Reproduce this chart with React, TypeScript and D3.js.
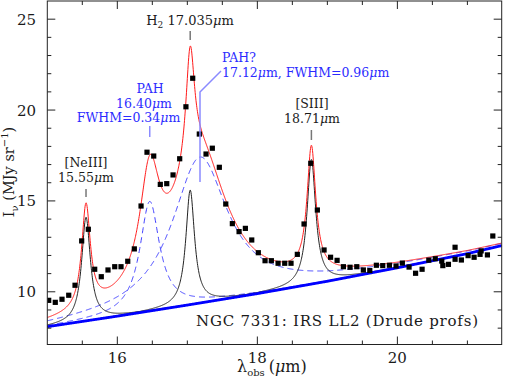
import React from 'react';
import * as d3 from 'd3';

const obsWave = [
  15.02, 15.114, 15.21, 15.306, 15.396, 15.491, 15.586, 15.677, 15.771, 15.867,
  15.963, 16.053, 16.149, 16.243, 16.339, 16.424, 16.52, 16.614, 16.706, 16.796,
  16.891, 16.98, 17.077, 17.171, 17.267, 17.357, 17.457, 17.549, 17.643, 17.739,
  17.829, 17.92, 18.014, 18.11, 18.2, 18.296, 18.391, 18.481, 18.571, 18.667,
  18.763, 18.857, 18.953, 19.046, 19.139, 19.229, 19.324, 19.42, 19.514, 19.606,
  19.7, 19.791, 19.886, 19.981, 20.071, 20.167, 20.26, 20.353, 20.449, 20.541,
  20.634, 20.649, 20.729, 20.824, 20.824, 20.914, 21.01, 21.096, 21.181, 21.196,
  21.286, 21.363,
];
const obsFlux = [
  9.53, 9.42, 9.59, 9.81, 10.36, 12.8, 13.44, 11.24, 10.83, 11.2,
  11.38, 11.38, 11.68, 12.36, 14.72, 17.68, 17.47, 15.91, 15.95, 16.43,
  17.32, 20.18, 21.75, 18.68, 17.58, 17.9, 16.85, 14.83, 13.75, 13.31,
  13.49, 12.85, 12.15, 11.71, 11.71, 11.57, 11.57, 11.57, 12.06, 13.73,
  17.07, 14.5, 12.3, 11.9, 11.73, 11.38, 11.35, 11.38, 11.2, 11.17,
  11.46, 11.44, 11.46, 11.42, 11.58, 11.36, 11.02, 11.24, 11.74, 11.82,
  11.69, 11.44, 11.51, 12.45, 11.79, 11.75, 11.99, 11.9, 12.06, 12.25,
  12.03, 13.07,
];

// continuum (thick blue), read at a few wavelengths
const contWave = [15, 16, 17, 18, 19, 20, 21, 21.5];
const contFlux = [8.08, 8.66, 9.27, 9.9, 10.58, 11.32, 12.1, 12.55];

// fitted Drude components: unresolved lines (black) and PAH bands (blue dashed)
const lineCenter = [15.553, 17.041, 18.772];
const lineFwhm = [0.15, 0.15, 0.15];
const linePeak = [5.7, 6.3, 6.86];
const pahCenter = [16.463, 17.181];
const pahFwhm = [0.34, 0.96];
const pahPeak = [6.03, 8.03];

const xTickLabels = [16, 18, 20];
const yTickLabels = [10, 15, 20, 25];

const FONT = 'DejaVu Serif';

const drude = (w: number, c: number, f: number, a: number) => {
  const g = f / c;
  const d = w / c - c / w;
  return (a * g * g) / (d * d + g * g);
};

export default function App() {
  const x = d3.scaleLinear().domain([15, 21.49]).range([47.3, 501.7]);
  const y = d3.scaleLinear().domain([7.1, 26]).range([344.5, 1]);
  const cont = d3.scaleLinear().domain(contWave).range(contFlux);

  const grid = d3.range(15, 21.49, 0.004);
  const line = d3.line<[number, number]>().x((d) => x(d[0])).y((d) => y(d[1]));

  const total = grid.map((w) => {
    let v = cont(w);
    lineCenter.forEach((c, i) => (v += drude(w, c, lineFwhm[i], linePeak[i])));
    pahCenter.forEach((c, i) => (v += drude(w, c, pahFwhm[i], pahPeak[i])));
    return [w, v] as [number, number];
  });
  const contPath = line(grid.map((w) => [w, cont(w)]));
  const linePaths = lineCenter.map((c, i) =>
    line(grid.map((w) => [w, cont(w) + drude(w, c, lineFwhm[i], linePeak[i])]))
  );
  const pahPaths = pahCenter.map((c, i) =>
    line(grid.map((w) => [w, cont(w) + drude(w, c, pahFwhm[i], pahPeak[i])]))
  );

  const [x0, x1] = x.range();
  const [y0, y1] = y.range();
  const xMinor = d3.range(15.5, 21.5, 0.5).filter((v) => v % 2 !== 0);
  const yMinor = d3.range(8, 26, 1).filter((v) => v % 5 !== 0);

  const mu = <tspan fontStyle="italic">μ</tspan>;
  const ink = '#1a1a1a';
  const blueTxt = '#2b2bff';

  return (
    <svg width={509} height={380} style={{ position: 'absolute', left: 0, top: 0, background: '#fff' }}
      fontFamily={FONT}>
      <defs>
        <clipPath id="plot">
          <rect x={x0} y={y1} width={x1 - x0} height={y0 - y1} />
        </clipPath>
      </defs>

      <g clipPath="url(#plot)" fill="none">
        {pahPaths.map((p, i) => (
          <path key={'p' + i} d={p ?? ''} stroke="#3d3dff" strokeWidth={1} strokeDasharray="6 4" />
        ))}
        {linePaths.map((p, i) => (
          <path key={'l' + i} d={p ?? ''} stroke="#222" strokeWidth={1} />
        ))}
        <path d={contPath ?? ''} stroke="#0000ff" strokeWidth={2.8} />
        <path d={line(total) ?? ''} stroke="#ff1a1a" strokeWidth={1} />
        {obsWave.map((w, i) => (
          <rect key={'s' + i} x={x(w) - 2.6} y={y(obsFlux[i]) - 2.6} width={5.2} height={5.2} fill="#000" />
        ))}
      </g>

      {/* frame and ticks */}
      <rect x={x0} y={y1} width={x1 - x0} height={y0 - y1} fill="none" stroke="#222" strokeWidth={1} />
      <g stroke="#222" strokeWidth={1}>
        {xTickLabels.map((v) => (
          <g key={'xt' + v}>
            <line x1={x(v)} x2={x(v)} y1={y0} y2={y0 - 8} />
            <line x1={x(v)} x2={x(v)} y1={y1} y2={y1 + 8} />
          </g>
        ))}
        {xMinor.map((v) => (
          <g key={'xm' + v}>
            <line x1={x(v)} x2={x(v)} y1={y0} y2={y0 - 4} />
            <line x1={x(v)} x2={x(v)} y1={y1} y2={y1 + 4} />
          </g>
        ))}
        {yTickLabels.map((v) => (
          <g key={'yt' + v}>
            <line x1={x0} x2={x0 + 8} y1={y(v)} y2={y(v)} />
            <line x1={x1} x2={x1 - 8} y1={y(v)} y2={y(v)} />
          </g>
        ))}
        {yMinor.map((v) => (
          <g key={'ym' + v}>
            <line x1={x0} x2={x0 + 4} y1={y(v)} y2={y(v)} />
            <line x1={x1} x2={x1 - 4} y1={y(v)} y2={y(v)} />
          </g>
        ))}
      </g>

      <g fontSize={15} fill={ink}>
        {xTickLabels.map((v) => (
          <text key={'xl' + v} x={x(v)} y={363} textAnchor="middle">{v}</text>
        ))}
        {yTickLabels.map((v) => (
          <text key={'yl' + v} x={36} y={y(v) + 5.5} textAnchor="end">{v}</text>
        ))}
      </g>

      {/* axis titles */}
      <text x={237} y={372} fontSize={16} fill={ink}>
        <tspan>λ</tspan>
        <tspan fontSize={10} dy={4}>obs</tspan>
        <tspan dy={-4} dx={4}>(</tspan>{mu}<tspan>m)</tspan>
      </text>
      <text transform="translate(14,172) rotate(-90)" textAnchor="middle" fontSize={14.5} fill={ink}>
        <tspan>I</tspan>
        <tspan fontSize={10} dy={4}>ν</tspan>
        <tspan dy={-4}> (MJy sr</tspan>
        <tspan fontSize={10} dy={-6}>−1</tspan>
        <tspan dy={6}>)</tspan>
      </text>

      {/* feature annotations */}
      <g fontSize={12.5} fill={ink}>
        <text x={86} y={167} textAnchor="middle">[NeIII]</text>
        <text x={86} y={182} textAnchor="middle">15.55{mu}m</text>
        <text x={190} y={25} textAnchor="middle" fontSize={13}>
          H<tspan fontSize={9} dy={3}>2</tspan><tspan dy={-3}> 17.035</tspan>{mu}m
        </text>
        <text x={312} y={108} textAnchor="middle">[SIII]</text>
        <text x={312} y={123} textAnchor="middle">18.71{mu}m</text>
        <text x={196} y={326} fontSize={15} textLength={282} lengthAdjust="spacing">
          NGC 7331: IRS LL2 (Drude profs)
        </text>
      </g>
      <g fontSize={12.5} fill={blueTxt}>
        <text x={150} y={93} textAnchor="middle">PAH</text>
        <text x={144} y={107.5} textAnchor="middle">16.40{mu}m</text>
        <text x={128.5} y={122} textAnchor="middle">FWHM=0.34{mu}m</text>
        <text x={222} y={62}>PAH?</text>
        <text x={222} y={77}>17.12{mu}m, FWHM=0.96{mu}m</text>
      </g>
      <g stroke="#777" strokeWidth={1.5}>
        <line x1={x(lineCenter[0])} x2={x(lineCenter[0])} y1={189} y2={197} />
        <line x1={x(lineCenter[1])} x2={x(lineCenter[1])} y1={31} y2={40} />
        <line x1={x(lineCenter[2])} x2={x(lineCenter[2])} y1={130} y2={140} />
      </g>
      <g stroke="#8a8aff" strokeWidth={1.5} fill="none">
        <line x1={x(pahCenter[0])} x2={x(pahCenter[0])} y1={126} y2={137} />
        <polyline points={`${x(pahCenter[1])},182 ${x(pahCenter[1])},92 221,71`} />
      </g>
    </svg>
  );
}
